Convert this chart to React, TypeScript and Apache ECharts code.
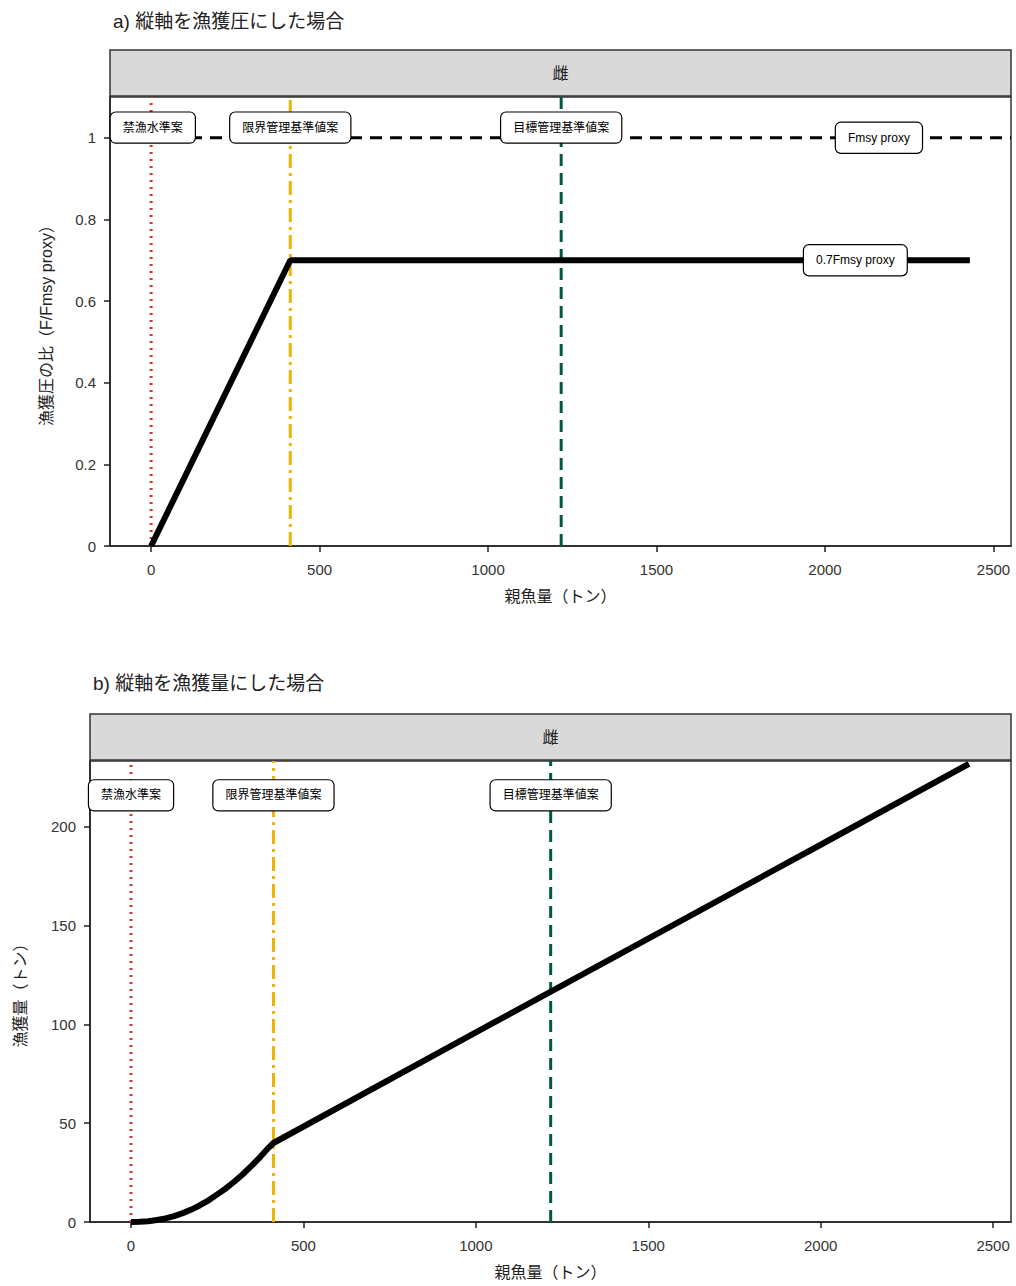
import React, { useEffect, useRef } from "react";
import * as echarts from "echarts";

const xTicks = [0, 500, 1000, 1500, 2000, 2500];
const yTicksA = [0, 0.2, 0.4, 0.6, 0.8, 1];
const yTicksB = [0, 50, 100, 150, 200];
const hcrA = [[0, 0], [413, 0.7], [2430, 0.7]];
const catchB = [[0, 0], [25, 0.1], [50, 0.4], [75, 1], [100, 1.8], [125, 3], [150, 4.5], [175, 6.3], [200, 8.5], [225, 11], [250, 14], [275, 17], [300, 20.5], [325, 24.3], [350, 28.5], [375, 33], [400, 37.8], [413, 40], [1000, 96], [1500, 143.5], [2000, 191], [2430, 232]];
const refBan = 0;
const refLimit = 413;
const refTarget = 1217;
const fmsy = 1;
const labelsA = [["禁漁水準案", 5, 1.025], ["限界管理基準値案", 413, 1.025], ["目標管理基準値案", 1217, 1.025], ["Fmsy proxy", 2160, 1], ["0.7Fmsy proxy", 2090, 0.7]];
const labelsB = [["禁漁水準案", 0, 216], ["限界管理基準値案", 413, 216], ["目標管理基準値案", 1217, 216]];

const font = "'Liberation Sans', Arial, 'Noto Sans CJK JP', sans-serif";

export default function App() {
  const ref = useRef<HTMLDivElement>(null);
  useEffect(() => {
    const c = echarts.init(ref.current!, null, { renderer: "svg" });
    const xA = (gi: number) => ({
      type: "value", gridIndex: gi, min: gi === 0 ? -122 : -119, max: 2552,
      name: "親魚量（トン）", nameLocation: "middle", nameGap: 42,
      nameTextStyle: { fontSize: 16, color: "#222", fontFamily: font },
      axisLine: { show: true, onZero: false, lineStyle: { color: "#222", width: 1.5 } },
      axisTick: { show: true, customValues: xTicks, length: 6, lineStyle: { color: "#222", width: 1.5 } },
      axisLabel: { customValues: xTicks, margin: 16, fontSize: 15, color: "#333", fontFamily: font, formatter: (v: number) => String(v) },
      splitLine: { show: false },
    });
    const yAx = (gi: number, max: number, ticks: number[], name: string, gap: number) => ({
      type: "value", gridIndex: gi, min: 0, max,
      name, nameLocation: "middle", nameGap: gap,
      nameTextStyle: { fontSize: 16, color: "#222", fontFamily: font },
      axisLine: { show: true, onZero: false, lineStyle: { color: "#222", width: 1.5 } },
      axisTick: { show: true, customValues: ticks, length: 6, lineStyle: { color: "#222", width: 1.5 } },
      axisLabel: { customValues: ticks, margin: 14, fontSize: 15, color: "#333", fontFamily: font, formatter: (v: number) => String(v) },
      splitLine: { show: false },
    });
    const vline = (gi: number, x: number, ymax: number, color: string, type: any) => ({
      type: "line", xAxisIndex: gi, yAxisIndex: gi, data: [[x, 0], [x, ymax]], symbol: "none",
      lineStyle: { color, width: 3, type }, z: 2,
    });
    const lab = (gi: number, items: any[]) => ({
      type: "scatter", xAxisIndex: gi, yAxisIndex: gi, symbolSize: 0, z: 10,
      itemStyle: { opacity: 1 },
      data: items.map((d) => ({ value: [d[1], d[2]], name: d[0] })),
      label: {
        show: true, position: "inside", formatter: "{b}", fontSize: 12, color: "#000", fontFamily: font,
        opacity: 1, textBorderWidth: 0,
        backgroundColor: "#fff", borderColor: "#000", borderWidth: 1.2, borderRadius: 5, padding: [9, 12],
      },
    });
    const strip = (top: number, left: number) => ({
      type: "group", children: [
        { type: "rect", shape: { x: left, y: top, width: 1011 - left, height: 46 }, style: { fill: "#d9d9d9", stroke: "#333", lineWidth: 1.5 } },
        { type: "text", x: (left + 1011) / 2, y: top + 23, style: { text: "雌", fontSize: 16, fill: "#222", align: "center", verticalAlign: "middle", fontFamily: font } },
      ],
    });
    c.setOption({
      animation: false,
      title: [
        { text: "a) 縦軸を漁獲圧にした場合", left: 108, top: 7, textStyle: { fontSize: 19, fontWeight: "normal", color: "#222", fontFamily: font } },
        { text: "b) 縦軸を漁獲量にした場合", left: 88, top: 669, textStyle: { fontSize: 19, fontWeight: "normal", color: "#222", fontFamily: font } },
      ],
      graphic: [strip(50, 110), strip(714, 90)],
      grid: [
        { left: 110, right: 5, top: 97, height: 449, show: true, borderColor: "#333", borderWidth: 1.5 },
        { left: 90, right: 5, top: 761, height: 461, show: true, borderColor: "#333", borderWidth: 1.5 },
      ],
      xAxis: [xA(0), xA(1)],
      yAxis: [
        yAx(0, 1.1, yTicksA, "漁獲圧の比（F/Fmsy proxy）", 56),
        yAx(1, 233.4, yTicksB, "漁獲量（トン）", 62),
      ],
      series: [
        vline(0, refBan, 1.1, "#e03030", [2, 5]),
        vline(0, refLimit, 1.1, "#f0b400", [14, 5, 3, 5]),
        vline(0, refTarget, 1.1, "#005a3c", [12, 7]),
        { type: "line", data: [[-122, fmsy], [2552, fmsy]], symbol: "none", lineStyle: { color: "#000", width: 3, type: [12, 8] }, z: 3 },
        { type: "line", data: hcrA, symbol: "none", lineStyle: { color: "#000", width: 6 }, z: 4 },
        lab(0, labelsA),
        vline(1, refBan, 233.4, "#e03030", [2, 5]),
        vline(1, refLimit, 233.4, "#f0b400", [14, 5, 3, 5]),
        vline(1, refTarget, 233.4, "#005a3c", [12, 7]),
        { type: "line", xAxisIndex: 1, yAxisIndex: 1, data: catchB, symbol: "none", lineStyle: { color: "#000", width: 6 }, z: 4 },
        lab(1, labelsB),
      ],
    });
    return () => c.dispose();
  }, []);
  return <div ref={ref} style={{ position: "absolute", left: 0, top: 0, width: 1016, height: 1286 }} />;
}
